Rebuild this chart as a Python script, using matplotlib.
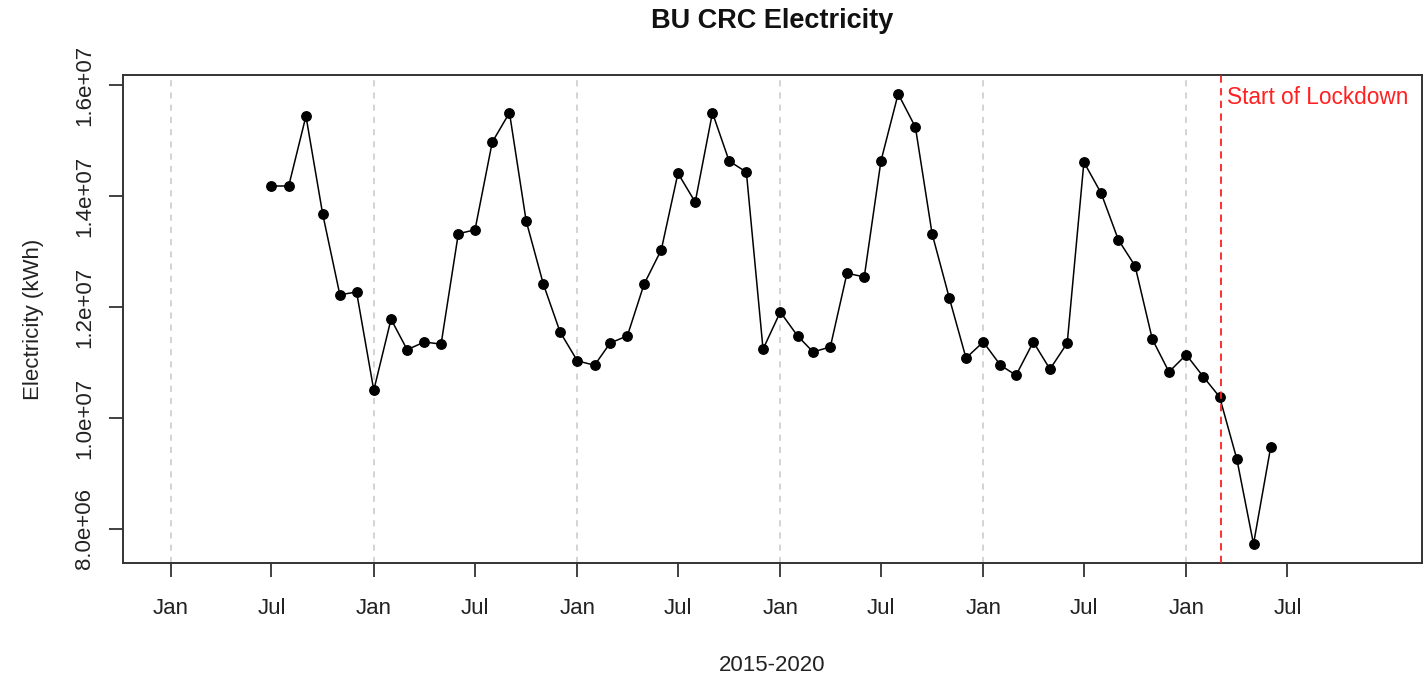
import matplotlib
matplotlib.use("Agg")
import matplotlib.pyplot as plt
import matplotlib.dates as mdates
import numpy as np
import pandas as pd

plt.rcParams['font.family'] = ['Liberation Sans', 'DejaVu Sans']

# Monthly electricity (kWh), Jul 2015 - Jun 2020
months = pd.date_range("2015-07-01", "2020-06-01", freq="MS")
electricity = [
    14.18e6, 14.18e6, 15.44e6, 13.68e6, 12.22e6, 12.27e6,   # Jul-Dec 2015
    10.50e6, 11.78e6, 11.23e6, 11.37e6, 11.33e6, 13.32e6,   # Jan-Jun 2016
    13.39e6, 14.97e6, 15.50e6, 13.55e6, 12.41e6, 11.55e6,   # Jul-Dec 2016
    11.03e6, 10.95e6, 11.35e6, 11.48e6, 12.41e6, 13.03e6,   # Jan-Jun 2017
    14.41e6, 13.89e6, 15.50e6, 14.63e6, 14.43e6, 11.24e6,   # Jul-Dec 2017
    11.91e6, 11.48e6, 11.19e6, 11.28e6, 12.61e6, 12.54e6,   # Jan-Jun 2018
    14.63e6, 15.84e6, 15.24e6, 13.32e6, 12.16e6, 11.08e6,   # Jul-Dec 2018
    11.37e6, 10.95e6, 10.77e6, 11.37e6, 10.88e6, 11.35e6,   # Jan-Jun 2019
    14.61e6, 14.05e6, 13.21e6, 12.74e6, 11.42e6, 10.83e6,   # Jul-Dec 2019
    11.14e6, 10.74e6, 10.38e6, 9.26e6, 7.73e6, 9.48e6,      # Jan-Jun 2020
]
tick_dates = pd.date_range("2015-01-01", "2020-07-01", freq="6MS")
tick_labels = ["Jan" if d.month == 1 else "Jul" for d in tick_dates]
grid_dates = pd.date_range("2015-01-01", "2020-01-01", freq="YS")
yticks = [8.0e6, 1.0e7, 1.2e7, 1.4e7, 1.6e7]
ytick_labels = ["8.0e+06", "1.0e+07", "1.2e+07", "1.4e+07", "1.6e+07"]
lockdown_date = pd.Timestamp("2020-03-03")
lockdown_label = "Start of Lockdown"

W, H = 1427, 674
fig = plt.figure(figsize=(W / 100, H / 100), dpi=100)
ax = fig.add_axes([123 / W, 1 - 563 / H, (1422 - 123) / W, (563 - 75) / H])

for g in grid_dates:
    ax.axvline(g, color="#c8c8c8", linestyle=(0, (4, 4)), linewidth=1.1, zorder=0)

ax.plot(months, electricity, color="black", linewidth=1.1, marker="o",
        markersize=6.8, markerfacecolor="black", markeredgecolor="black", zorder=3)

ax.axvline(lockdown_date, color="#ff2020", linestyle=(0, (4, 3)), linewidth=1.3, zorder=4)
ax.text(lockdown_date + pd.Timedelta(days=12), 15.77e6, lockdown_label,
        color="#ff2020", fontsize=16.3, va="center", ha="left")

ax.set_xlim(pd.Timestamp("2014-10-07"), pd.Timestamp("2021-02-28"))
ax.set_ylim(7.387e6, 16.18e6)

ax.set_xticks(tick_dates)
ax.set_xticklabels(tick_labels)
ax.set_yticks(yticks)
ax.set_yticklabels(ytick_labels, rotation=90, va="center")

ax.tick_params(axis="both", length=10, width=1.3, color="#333333",
               labelsize=16, labelcolor="#222222")
ax.tick_params(axis="x", pad=15)
ax.tick_params(axis="y", pad=10)

for s in ax.spines.values():
    s.set_color("#333333")
    s.set_linewidth(1.4)

ax.set_xlabel("2015-2020", fontsize=16, color="#222222", labelpad=26)
ax.set_ylabel("Electricity (kWh)", fontsize=16, color="#222222", labelpad=22)
fig.text((123 + 1422) / 2 / W, 1 - 21 / H, "BU CRC Electricity", ha="center",
         va="center", fontsize=19.5, fontweight="bold", color="#111111")

fig.savefig("out.png", dpi=100, facecolor="white")
